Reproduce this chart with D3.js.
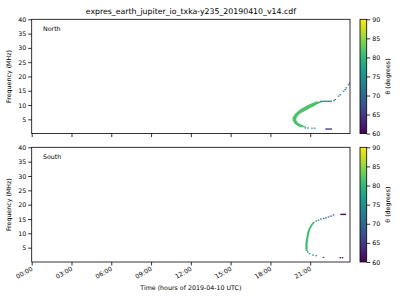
<!DOCTYPE html>
<html>
<head>
<meta charset="utf-8">
<script src="https://cdn.jsdelivr.net/npm/d3@7"></script>
<style>
    body { margin: 0; background: #fff; }
    svg { display: block; font-family: "DejaVu Sans", sans-serif; }
</style>
</head>
<body>
<svg id="chart" width="400" height="300"></svg>
<script>
// EXPRES Io-Jupiter emission, north and south hemispheres, coloured by theta

const titleText = "expres_earth_jupiter_io_txka-y235_20190410_v14.cdf";
const hourTicks = [0, 3, 6, 9, 12, 15, 18, 21];
const hourLabels = ["00:00", "03:00", "06:00", "09:00", "12:00", "15:00", "18:00", "21:00"];
const freqTicks = [5, 10, 15, 20, 25, 30, 35, 40];
const thetaTicks = [60, 65, 70, 75, 80, 85, 90];

// band rows: [freq MHz, start hour, end hour]
const northBand = [
    [11.2, 21.40, 21.80], [11.0, 21.33, 21.89], [10.5, 21.08, 21.63],
    [10.0, 20.83, 21.43], [9.5, 20.63, 21.25], [9.0, 20.42, 21.00],
    [8.5, 20.25, 20.83], [8.0, 20.12, 20.63], [7.5, 20.00, 20.42],
    [7.0, 19.87, 20.25], [6.5, 19.80, 20.12], [6.0, 19.72, 20.02],
    [5.5, 19.67, 19.97], [5.0, 19.67, 19.95], [4.5, 19.70, 19.97],
    [4.0, 19.74, 20.05], [3.5, 19.82, 20.17], [3.0, 19.95, 20.38],
    [2.5, 20.12, 20.63], [2.2, 20.38, 20.68]
];
const northBandTheta = 81.5;
// scattered points: [hour, freq, theta]
const northDots = [
    [23.97, 17.7, 72], [23.89, 17.1, 72], [23.72, 16.0, 72], [23.64, 15.4, 72.5],
    [23.52, 14.8, 73], [23.27, 13.6, 73], [23.14, 13.1, 73.5], [22.89, 11.9, 74],
    [22.79, 11.5, 74], [20.63, 2.0, 75], [20.83, 1.95, 75], [21.13, 1.9, 74], [21.33, 1.9, 74]
];
// dashes: [start hour, end hour, freq, theta]
const northDashes = [
    [21.75, 22.64, 11.3, 77],
    [22.14, 22.64, 1.6, 66]
];

const southBand = [
    [14.0, 21.22, 21.36], [13.8, 21.18, 21.34], [13.1, 21.06, 21.22], [12.3, 20.95, 21.11],
    [11.5, 20.87, 21.03], [10.6, 20.80, 20.96], [9.4, 20.74, 20.90],
    [8.3, 20.70, 20.86], [7.1, 20.65, 20.82], [5.9, 20.63, 20.80],
    [4.8, 20.63, 20.80], [4.2, 20.65, 20.80], [3.8, 20.70, 20.84]
];
const southBandTheta = 81;
const southDots = [
    [21.46, 14.3, 73], [21.63, 14.6, 72], [21.81, 15.0, 71], [22.01, 15.2, 70.5],
    [22.19, 15.4, 70], [22.38, 15.7, 69], [22.57, 16.0, 68.5], [22.76, 16.4, 68],
    [20.82, 3.5, 76], [20.95, 2.9, 75], [21.21, 2.4, 74], [21.46, 2.2, 73],
    [22.00, 1.6, 66], [23.27, 1.5, 61], [23.44, 1.5, 61]
];
const southDashes = [
    [23.27, 23.70, 16.6, 61]
];

const panels = [
    { name: "North", top: 19.3, bottom: 133.6, band: northBand, bandTheta: northBandTheta,
      dots: northDots, dashes: northDashes, showXLabels: false },
    { name: "South", top: 147.3, bottom: 262, band: southBand, bandTheta: southBandTheta,
      dots: southDots, dashes: southDashes, showXLabels: true }
];

const left = 31.7, right = 350;
const cbLeft = 360, cbWidth = 6.7;
const svg = d3.select("#chart");
const color = d3.scaleSequential(d3.interpolateViridis).domain([60, 90]);
const x = d3.scaleLinear().domain([0, 24]).range([left, right]);

// gradient for colorbars
const grad = svg.append("defs").append("linearGradient")
    .attr("id", "viridis").attr("x1", 0).attr("y1", 1).attr("x2", 0).attr("y2", 0);
d3.range(0, 1.0001, 0.05).forEach(t => {
    grad.append("stop").attr("offset", t).attr("stop-color", d3.interpolateViridis(t));
});

svg.append("text")
    .attr("x", (left + right) / 2).attr("y", 14)
    .attr("text-anchor", "middle").attr("font-size", 7.8).attr("fill", "#000")
    .text(titleText);

panels.forEach((p, i) => {
    const y = d3.scaleLinear().domain([0, 40]).range([p.bottom, p.top]);
    const g = svg.append("g");

    const clipId = "clip" + i;
    svg.select("defs").append("clipPath").attr("id", clipId)
        .append("rect").attr("x", left).attr("y", p.top)
        .attr("width", right - left).attr("height", p.bottom - p.top);

    const marks = g.append("g").attr("clip-path", `url(#${clipId})`);

    const area = d3.area()
        .y(d => y(d[0]))
        .x0(d => x(d[1]))
        .x1(d => x(d[2]));
    marks.append("path")
        .datum(p.band)
        .attr("d", area)
        .attr("fill", color(p.bandTheta));

    marks.selectAll(".dash").data(p.dashes).enter().append("rect")
        .attr("x", d => x(d[0]))
        .attr("width", d => x(d[1]) - x(d[0]))
        .attr("y", d => y(d[2]) - 0.7)
        .attr("height", 1.4)
        .attr("fill", d => color(d[3]));

    marks.selectAll(".dot").data(p.dots).enter().append("rect")
        .attr("x", d => x(d[0]) - 0.8)
        .attr("width", 1.6)
        .attr("y", d => y(d[1]) - 0.6)
        .attr("height", 1.2)
        .attr("fill", d => color(d[2]));

    // frame
    g.append("rect")
        .attr("x", left).attr("y", p.top)
        .attr("width", right - left).attr("height", p.bottom - p.top)
        .attr("fill", "none").attr("stroke", "#000").attr("stroke-width", 0.8);

    // y axis
    const yAxis = g.append("g").attr("transform", `translate(${left},0)`)
        .call(d3.axisLeft(y).tickValues(freqTicks).tickSize(3.5).tickPadding(2));
    yAxis.select(".domain").remove();
    yAxis.selectAll("text").attr("font-size", 6.3).attr("fill", "#000")
        .attr("font-family", "DejaVu Sans");
    yAxis.selectAll("line").attr("stroke-width", 0.8);

    // x axis
    const xAxis = g.append("g").attr("transform", `translate(0,${p.bottom})`)
        .call(d3.axisBottom(x).tickValues(hourTicks).tickSize(3.5)
            .tickFormat((d, k) => p.showXLabels ? hourLabels[k] : ""));
    xAxis.select(".domain").remove();
    xAxis.selectAll("line").attr("stroke-width", 0.8);
    xAxis.selectAll("text")
        .attr("font-size", 6.3).attr("fill", "#000").attr("font-family", "DejaVu Sans")
        .attr("text-anchor", "end")
        .attr("dy", null).attr("y", 0)
        .attr("transform", "translate(1,8) rotate(-30)");

    svg.append("text")
        .attr("transform", `translate(11,${(p.top + p.bottom) / 2}) rotate(-90)`)
        .attr("text-anchor", "middle").attr("font-size", 6.3).attr("fill", "#000")
        .text("Frequency (MHz)");

    svg.append("text")
        .attr("x", 43).attr("y", p.top + 12)
        .attr("font-size", 6.3).attr("fill", "#000")
        .text(p.name);

    // colorbar
    const cy = d3.scaleLinear().domain([60, 90]).range([p.bottom, p.top]);
    svg.append("rect")
        .attr("x", cbLeft).attr("y", p.top)
        .attr("width", cbWidth).attr("height", p.bottom - p.top)
        .attr("fill", "url(#viridis)")
        .attr("stroke", "#000").attr("stroke-width", 0.8);
    const cAxis = svg.append("g").attr("transform", `translate(${cbLeft + cbWidth},0)`)
        .call(d3.axisRight(cy).tickValues(thetaTicks).tickSize(3.5).tickPadding(2));
    cAxis.select(".domain").remove();
    cAxis.selectAll("line").attr("stroke-width", 0.8);
    cAxis.selectAll("text").attr("font-size", 6.3).attr("fill", "#000")
        .attr("font-family", "DejaVu Sans");
    svg.append("text")
        .attr("transform", `translate(390,${(p.top + p.bottom) / 2}) rotate(-90)`)
        .attr("text-anchor", "middle").attr("font-size", 6.3).attr("fill", "#000")
        .text("θ (degrees)");
});

svg.append("text")
    .attr("x", (left + right) / 2).attr("y", 290)
    .attr("text-anchor", "middle").attr("font-size", 6.3).attr("fill", "#000")
    .text("Time (hours of 2019-04-10 UTC)");
</script>
</body>
</html>
